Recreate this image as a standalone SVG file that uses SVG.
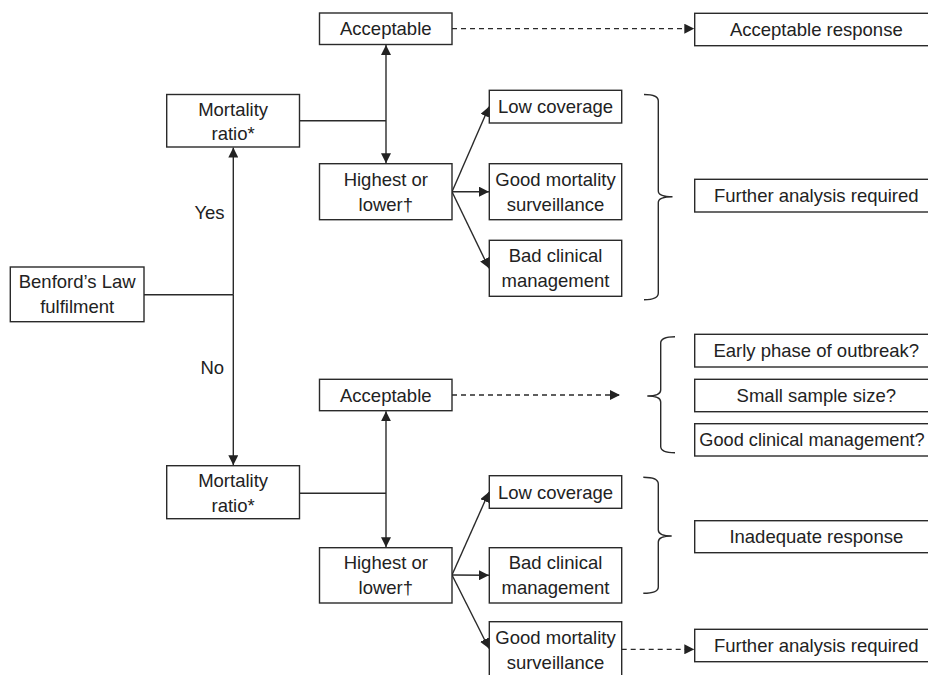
<svg xmlns="http://www.w3.org/2000/svg" width="928" height="675" viewBox="0 0 928 675">
<defs>
<style>
.b{fill:#fff;stroke:#2a2a2a;stroke-width:1.4}
.t{font-family:"Liberation Sans",Arial,sans-serif;font-size:18.5px;fill:#222;text-anchor:middle}
.c{fill:none;stroke:#2a2a2a;stroke-width:1.4}
.d{fill:none;stroke:#2a2a2a;stroke-width:1.3;stroke-dasharray:5 4}
</style>
<marker id="ah" markerUnits="userSpaceOnUse" markerWidth="10" markerHeight="10" viewBox="0 0 9 9" refX="9" refY="4.5" orient="auto-start-reverse">
<path d="M0,0 L9,4.5 L0,9 z" fill="#222"/>
</marker>
</defs>
<rect width="928" height="675" fill="#fff"/>

<g id="connectors">
<line class="c" x1="144" y1="294.7" x2="233.3" y2="294.7"/>
<line class="c" x1="233.3" y1="294.7" x2="233.3" y2="147.5" marker-end="url(#ah)"/>
<line class="c" x1="233.3" y1="294.7" x2="233.3" y2="465.2" marker-end="url(#ah)"/>
<line class="c" x1="299.5" y1="120.7" x2="386" y2="120.7"/>
<line class="c" x1="386" y1="45" x2="386" y2="163.2" marker-start="url(#ah)" marker-end="url(#ah)"/>
<line class="c" x1="299.5" y1="493.3" x2="386" y2="493.3"/>
<line class="c" x1="386" y1="411.2" x2="386" y2="547.2" marker-start="url(#ah)" marker-end="url(#ah)"/>
<line class="c" x1="452" y1="191.7" x2="489" y2="106.7" marker-end="url(#ah)"/>
<line class="c" x1="452" y1="191.7" x2="489" y2="191.7" marker-end="url(#ah)"/>
<line class="c" x1="452" y1="191.7" x2="489" y2="268.3" marker-end="url(#ah)"/>
<line class="c" x1="452" y1="575" x2="489" y2="492" marker-end="url(#ah)"/>
<line class="c" x1="452" y1="575" x2="489" y2="575.3" marker-end="url(#ah)"/>
<line class="c" x1="452" y1="575" x2="489" y2="648.5" marker-end="url(#ah)"/>
<line class="d" x1="452" y1="28.7" x2="694.3" y2="28.7" marker-end="url(#ah)"/>
<line class="d" x1="452" y1="395" x2="620" y2="395" marker-end="url(#ah)"/>
<line class="d" x1="621.7" y1="649.3" x2="694.3" y2="649.3" marker-end="url(#ah)"/>
<path class="c" d="M644,94.5 Q658.3,94.5 658.3,101 V191 Q658.3,196.7 672.5,196.7 M672.5,196.7 Q658.3,196.7 658.3,202.5 V293 Q658.3,299.7 644,299.7"/>
<path class="c" d="M643.3,477.3 Q658.3,477.3 658.3,484 V530 Q658.3,536 671.7,536 M671.7,536 Q658.3,536 658.3,542 V587 Q658.3,593.3 643.3,593.3"/>
<path class="c" d="M675,336.7 Q660.7,336.7 660.7,343 V390 Q660.7,396 647.3,396 M647.3,396 Q660.7,396 660.7,402 V446.5 Q660.7,452.7 675,452.7"/>
<text class="t" x="209.5" y="218.7">Yes</text>
<text class="t" x="212.3" y="374">No</text>
</g>

<g id="benford"><rect class="b" x="10.3" y="267" width="133.7" height="54.7"/><text class="t" x="77.2" y="288.3">Benford’s Law</text><text class="t" x="77.2" y="313.3">fulfilment</text></g>

<g id="mortTop"><rect class="b" x="166.7" y="94.5" width="132.8" height="52.5"/><text class="t" x="233.1" y="115.5">Mortality</text><text class="t" x="233.1" y="140.3">ratio*</text></g>
<g id="accTop"><rect class="b" x="319.5" y="13" width="132.5" height="31.5"/><text class="t" x="385.8" y="35.3">Acceptable</text></g>
<g id="highTop"><rect class="b" x="319.5" y="163.7" width="132.5" height="56"/><text class="t" x="385.8" y="185.7">Highest or</text><text class="t" x="385.8" y="210.7">lower†</text></g>
<g id="lowTop"><rect class="b" x="489.3" y="90.3" width="132.4" height="32.7"/><text class="t" x="555.5" y="113.2">Low coverage</text></g>
<g id="goodTop"><rect class="b" x="489.3" y="163.7" width="132.4" height="56"/><text class="t" x="555.5" y="185.7">Good mortality</text><text class="t" x="555.5" y="210.7">surveillance</text></g>
<g id="badTop"><rect class="b" x="489.3" y="240.3" width="132.4" height="56"/><text class="t" x="555.5" y="262.3">Bad clinical</text><text class="t" x="555.5" y="287.3">management</text></g>
<g id="accResp"><rect class="b" x="694.7" y="13.3" width="243" height="32.4"/><text class="t" x="816.3" y="36">Acceptable response</text></g>
<g id="furtherTop"><rect class="b" x="694.7" y="179.3" width="243" height="32.7"/><text class="t" x="816.3" y="202.2">Further analysis required</text></g>

<g id="mortBot"><rect class="b" x="166.7" y="465.7" width="132.8" height="53"/><text class="t" x="233.1" y="486.5">Mortality</text><text class="t" x="233.1" y="511.5">ratio*</text></g>
<g id="accBot"><rect class="b" x="319.5" y="379.3" width="132.5" height="31.4"/><text class="t" x="385.8" y="401.6">Acceptable</text></g>
<g id="highBot"><rect class="b" x="319.5" y="547.7" width="132.5" height="55.3"/><text class="t" x="385.8" y="569.3">Highest or</text><text class="t" x="385.8" y="594.3">lower†</text></g>
<g id="lowBot"><rect class="b" x="489.3" y="475.7" width="132.4" height="32.6"/><text class="t" x="555.5" y="498.6">Low coverage</text></g>
<g id="badBot"><rect class="b" x="489.3" y="547.7" width="132.4" height="55.3"/><text class="t" x="555.5" y="569.3">Bad clinical</text><text class="t" x="555.5" y="594.3">management</text></g>
<g id="goodBot"><rect class="b" x="489.3" y="621.7" width="132.4" height="60"/><text class="t" x="555.5" y="643.5">Good mortality</text><text class="t" x="555.5" y="668.5">surveillance</text></g>
<g id="early"><rect class="b" x="694.7" y="334.3" width="243" height="32.7"/><text class="t" x="816.3" y="357.2">Early phase of outbreak?</text></g>
<g id="small"><rect class="b" x="694.7" y="379.3" width="243" height="32.4"/><text class="t" x="816.3" y="402">Small sample size?</text></g>
<g id="goodClin"><rect class="b" x="694.7" y="423.7" width="243" height="32.3"/><text class="t" x="812" y="446.3" style="font-size:18.2px">Good clinical management?</text></g>
<g id="inadequate"><rect class="b" x="694.7" y="520.7" width="243" height="32"/><text class="t" x="816.3" y="543.2">Inadequate response</text></g>
<g id="furtherBot"><rect class="b" x="694.7" y="629.3" width="243" height="32.4"/><text class="t" x="816.3" y="652.2">Further analysis required</text></g>
</svg>
